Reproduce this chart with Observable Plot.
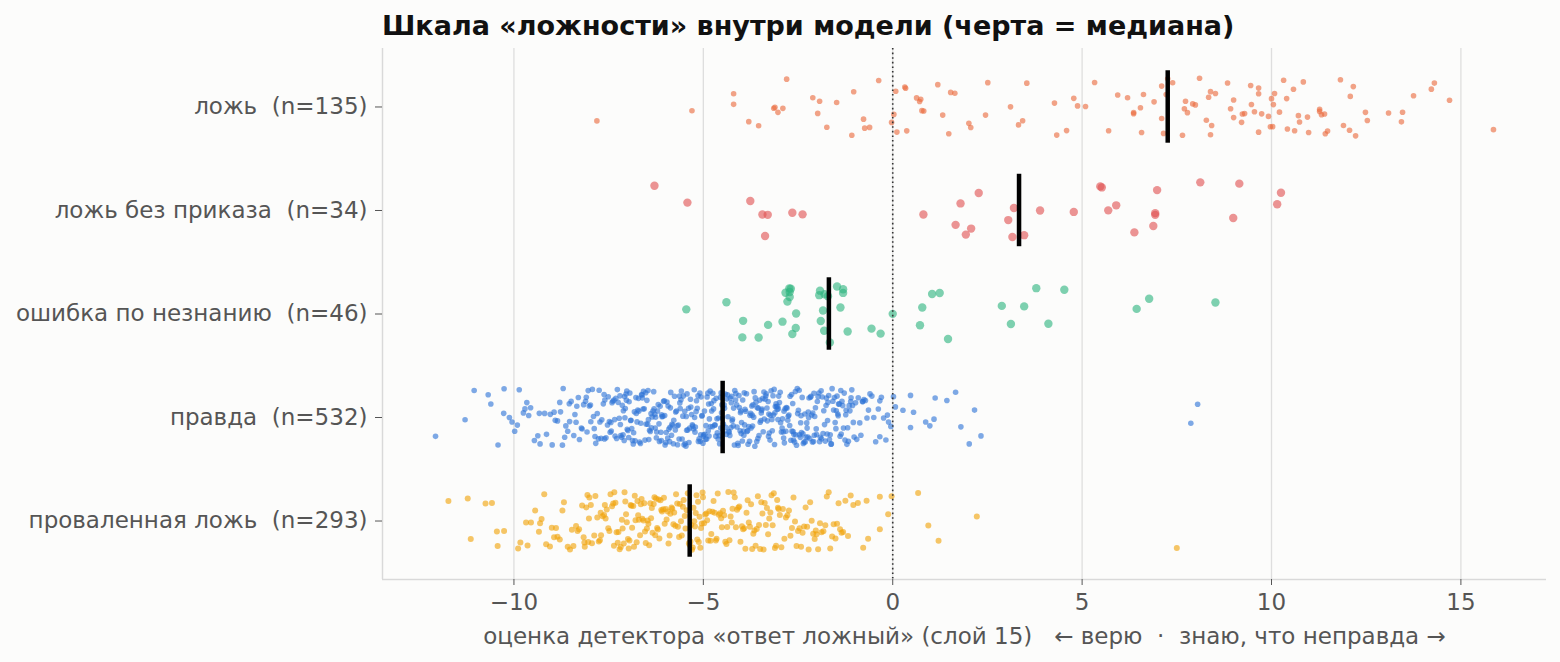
<!DOCTYPE html>
<html><head><meta charset="utf-8">
<script src="https://cdn.jsdelivr.net/npm/d3@7"></script>
<script src="https://cdn.jsdelivr.net/npm/@observablehq/plot@0.6"></script>
<style>
html,body{margin:0;padding:0;background:#fcfcfb;}
#wrap{position:relative;width:1560px;height:662px;font-family:"DejaVu Sans";}
#title{position:absolute;left:382px;top:12px;font-size:27px;line-height:1;font-weight:bold;color:#111;white-space:nowrap;}
#chart{position:absolute;left:0;top:0;}
svg text{white-space:pre;}
</style></head><body>
<div id="wrap"><div id="chart"></div><div id="title">Шкала «ложности» внутри модели (черта = медиана)</div></div>
<script>
const categories = ["ложь", "ложь без приказа", "ошибка по незнанию", "правда", "проваленная ложь"];
const colors = ["#ea6a3d", "#e05252", "#2fb57f", "#2f74d6", "#f0a30a"];
const radii = [2.8, 4.2, 4.2, 2.8, 3];
const xTicks = [-10, -5, 0, 5, 10, 15];
const xLabel = "оценка детектора «ответ ложный» (слой 15)   ← верю  ·  знаю, что неправда →";

const lie = [
-7.81,-5.30,-4.20,-4.20,-3.54,-3.80,-3.11,-2.90,-3.14,-2.80,
-3.03,-1.98,-1.93,-1.74,-2.11,-1.48,-1.03,-1.08,-0.77,-0.74,
-0.61,-0.37,0.03,0.11,0.08,-0.03,0.32,0.37,0.34,0.63,
0.77,0.74,0.71,0.82,1.19,1.32,1.48,1.53,1.64,2.01,
2.06,2.45,2.51,3.11,3.32,3.43,3.54,4.27,4.33,
4.59,4.88,4.78,5.09,5.33,5.70,5.94,6.20,6.36,6.36,
6.54,6.62,6.57,7.15,7.10,7.10,7.39,7.65,7.70,7.73,
7.78,7.92,7.99,8.10,8.28,8.34,8.39,8.42,8.39,8.52,
8.84,8.92,9.00,9.00,9.21,9.23,9.29,9.45,9.47,9.55,
9.66,9.66,9.66,9.74,9.92,9.97,10.00,10.03,10.05,10.08,
10.21,10.32,10.40,10.42,10.58,10.61,10.71,10.74,10.84,10.95,
10.98,11.27,11.27,11.32,11.40,11.42,11.48,11.82,11.90,12.06,
12.08,12.16,12.22,12.48,12.53,13.09,13.43,13.46,13.75,14.22,
14.30,14.70,15.86,6.90,7.22,7.26];

const lieUnprompted = [
-6.29,-5.42,-3.76,-3.37,-2.65,-3.44,-2.38,-3.30,0.81,1.79,
1.93,2.07,2.27,1.66,3.05,3.16,3.20,3.47,3.89,4.78,
5.69,5.52,5.48,5.90,6.38,6.93,6.98,6.93,6.88,8.12,
8.99,9.15,10.15,10.25];

const ignorance = [
-5.45,-4.39,-3.97,-3.95,-3.54,-3.29,-2.72,-2.65,-2.73,-2.78,
-2.56,-2.91,-2.83,-2.69,-2.72,-2.55,-1.84,-1.80,-1.47,-1.31,
-1.90,-1.81,-1.71,-1.94,-1.92,-1.66,-1.31,-1.19,-1.38,-0.56,
-0.32,0.00,1.04,0.78,0.72,1.46,1.24,3.12,2.88,3.47,
4.11,4.53,3.79,6.77,6.44,8.52];

const truth = [
-12.07,
-11.29,-11.05,
-10.68,-10.61,-10.42,-10.27,-10.26,-10.12,-10.05,
-9.98,-9.91,-9.86,-9.75,-9.71,-9.66,-9.61,-9.56,-9.46,-9.37,-9.33,-9.31,-9.19,-9.14,-9.04,
-8.99,-8.94,-8.91,-8.85,-8.79,-8.77,-8.72,-8.70,-8.66,-8.63,-8.58,-8.54,-8.53,-8.49,-8.42,-8.39,-8.36,-8.34,-8.30,-8.27,-8.22,-8.20,-8.16,-8.11,-8.09,-8.07,-8.04,-8.01,
-7.98,-7.97,-7.93,-7.88,-7.86,-7.84,-7.80,-7.77,-7.75,-7.73,-7.70,-7.68,-7.64,-7.61,-7.60,-7.57,-7.53,-7.51,-7.48,-7.46,-7.43,-7.41,-7.39,-7.36,-7.34,-7.31,-7.29,-7.27,-7.25,-7.22,-7.20,-7.18,-7.16,-7.14,-7.12,-7.11,-7.09,-7.07,-7.06,-7.04,-7.03,-7.02,-7.01,-7.90,-7.62,-7.44,-7.33,-7.19,-7.08,
-6.99,-6.97,-6.96,-6.94,-6.92,-6.91,-6.89,-6.87,-6.85,-6.84,-6.82,-6.80,-6.78,-6.77,-6.75,-6.73,-6.71,-6.70,-6.68,-6.66,-6.65,-6.63,-6.61,-6.59,-6.58,-6.56,-6.54,-6.52,-6.51,-6.49,-6.47,-6.45,-6.44,-6.42,-6.40,-6.38,-6.37,-6.35,-6.33,-6.31,-6.30,-6.28,-6.26,-6.24,-6.23,-6.21,-6.19,-6.17,-6.16,-6.14,-6.12,-6.10,-6.09,-6.07,-6.05,-6.03,-6.02,-6.01,-6.62,-6.46,-6.27,-6.11,
-5.99,-5.98,-5.96,-5.94,-5.93,-5.91,-5.89,-5.88,-5.86,-5.84,-5.83,-5.81,-5.79,-5.78,-5.76,-5.74,-5.73,-5.71,-5.69,-5.68,-5.66,-5.64,-5.63,-5.61,-5.59,-5.58,-5.56,-5.54,-5.53,-5.51,-5.49,-5.48,-5.46,-5.44,-5.43,-5.41,-5.39,-5.38,-5.36,-5.34,-5.33,-5.31,-5.29,-5.28,-5.26,-5.24,-5.23,-5.21,-5.19,-5.18,-5.16,-5.14,-5.13,-5.11,-5.09,-5.08,-5.06,-5.04,-5.03,-5.01,-5.87,-5.62,-5.45,-5.22,-5.07,
-5.00,-4.99,-4.97,-4.96,-4.94,-4.93,-4.91,-4.90,-4.88,-4.87,-4.85,-4.84,-4.82,-4.81,-4.79,-4.78,-4.76,-4.75,-4.73,-4.72,-4.70,-4.69,-4.67,-4.66,-4.64,-4.63,-4.61,-4.60,-4.58,-4.57,-4.55,-4.54,-4.53,-4.52,-4.51,-4.86,-4.50,-4.48,
-4.47,-4.45,-4.44,-4.42,-4.41,-4.39,-4.38,-4.36,-4.35,-4.33,-4.32,-4.30,-4.29,-4.27,-4.26,-4.24,-4.23,-4.21,-4.20,-4.18,-4.17,-4.15,-4.14,-4.12,-4.11,-4.09,-4.08,-4.06,-4.05,-4.03,-4.02,-4.01,-4.00,-4.25,
-3.99,-3.97,-3.96,-3.94,-3.93,-3.91,-3.90,-3.88,-3.86,-3.85,-3.83,-3.82,-3.80,-3.78,-3.77,-3.75,-3.74,-3.72,-3.71,-3.69,-3.67,-3.66,-3.64,-3.63,-3.61,-3.59,-3.58,-3.56,-3.55,-3.53,-3.51,-3.50,-3.48,-3.47,-3.45,-3.43,-3.42,-3.40,-3.39,-3.37,-3.35,-3.34,-3.32,-3.31,-3.29,-3.27,-3.26,-3.24,-3.23,-3.21,-3.19,-3.18,-3.16,-3.15,-3.13,-3.11,-3.10,-3.08,-3.07,-3.05,-3.03,-3.02,-3.01,-3.92,-3.70,-3.46,-3.28,-3.12,-3.04,
-2.99,-2.97,-2.96,-2.94,-2.92,-2.91,-2.89,-2.87,-2.86,-2.84,-2.82,-2.81,-2.79,-2.77,-2.76,-2.74,-2.72,-2.71,-2.69,-2.67,-2.66,-2.64,-2.62,-2.61,-2.59,-2.57,-2.56,-2.54,-2.52,-2.51,-2.49,-2.47,-2.46,-2.44,-2.42,-2.41,-2.39,-2.37,-2.36,-2.34,-2.32,-2.31,-2.29,-2.27,-2.26,-2.24,-2.22,-2.21,-2.19,-2.17,-2.16,-2.14,-2.12,-2.11,-2.09,-2.07,-2.06,-2.04,-2.02,-2.01,-2.88,-2.63,-2.43,-2.23,-2.08,
-1.99,-1.97,-1.95,-1.93,-1.91,-1.89,-1.88,-1.86,-1.84,-1.82,-1.80,-1.78,-1.76,-1.75,-1.73,-1.71,-1.69,-1.67,-1.65,-1.63,-1.62,-1.60,-1.58,-1.56,-1.54,-1.52,-1.50,-1.49,-1.47,-1.45,-1.43,-1.41,-1.39,-1.37,-1.36,-1.34,-1.32,-1.30,-1.28,-1.26,-1.24,-1.23,-1.21,-1.19,-1.17,-1.15,-1.13,-1.11,-1.10,-1.08,-1.06,-1.04,-1.02,-1.72,-1.44,
-0.98,-0.95,-0.91,-0.87,-0.84,-0.80,-0.79,-0.76,-0.72,-0.68,-0.64,-0.60,-0.55,-0.50,-0.45,-0.38,-0.34,-0.34,-0.30,-0.24,-0.18,-0.14,-0.11,-0.05,
0.02,0.07,0.27,0.47,0.47,0.55,0.87,0.98,
1.09,1.12,1.43,1.66,1.80,
2.02,2.16,2.33,
7.87,8.05];

const failedLie = [
-11.73,-11.22,-11.14,
-10.75,-10.58,-10.45,-10.43,-10.26,
-9.89,-9.83,-9.68,-9.64,-9.55,-9.44,-9.34,-9.31,-9.27,-9.20,-9.15,-9.05,-9.00,
-8.94,-8.89,-8.85,-8.79,-8.72,-8.68,-8.58,-8.52,-8.47,-8.43,-8.36,-8.32,-8.28,-8.20,-8.16,-8.14,-8.13,-8.09,-8.06,-8.04,-8.02,-8.01,
-7.97,-7.94,-7.88,-7.85,-7.80,-7.76,-7.73,-7.71,-7.70,-7.66,-7.62,-7.58,-7.55,-7.51,-7.48,-7.45,-7.41,-7.38,-7.35,-7.32,-7.29,-7.26,-7.24,-7.21,-7.18,-7.15,-7.13,-7.10,-7.08,-7.06,-7.04,-7.02,-7.60,-7.36,
-6.99,-6.97,-6.95,-6.92,-6.90,-6.88,-6.85,-6.83,-6.81,-6.79,-6.76,-6.74,-6.72,-6.70,-6.67,-6.65,-6.63,-6.61,-6.58,-6.56,-6.54,-6.52,-6.49,-6.47,-6.45,-6.43,-6.40,-6.38,-6.36,-6.34,-6.31,-6.29,-6.27,-6.25,-6.22,-6.20,-6.18,-6.16,-6.13,-6.11,-6.09,-6.06,-6.04,-6.02,
-5.99,-5.97,-5.94,-5.92,-5.89,-5.87,-5.84,-5.82,-5.79,-5.77,-5.74,-5.72,-5.69,-5.67,-5.64,-5.62,-5.59,-5.57,-5.54,-5.52,-5.49,-5.47,-5.44,-5.41,-5.38,-5.36,
-5.34,-5.32,-5.30,-5.28,-5.26,-5.24,-5.22,-5.20,-5.18,-5.16,-5.14,-5.12,-5.10,-5.08,-5.06,-5.04,-5.02,-5.01,
-4.98,-4.95,-4.92,-4.90,-4.87,-4.84,-4.81,-4.79,-4.76,-4.73,-4.70,-4.67,-4.65,-4.62,-4.59,-4.56,-4.53,-4.51,-4.48,-4.45,-4.42,-4.39,-4.37,-4.34,-4.31,-4.28,-4.25,-4.23,-4.20,-4.17,-4.14,-4.11,-4.08,-4.05,-4.02,
-3.98,-3.95,-3.92,-3.89,-3.86,-3.83,-3.80,-3.77,-3.74,-3.71,-3.68,-3.65,-3.62,-3.59,-3.56,-3.53,-3.50,-3.47,-3.44,-3.41,-3.38,-3.35,-3.32,-3.29,-3.26,-3.23,-3.20,-3.17,-3.14,-3.11,-3.08,-3.05,-3.03,-3.01,
-2.98,-2.94,-2.90,-2.86,-2.82,-2.78,-2.74,-2.70,-2.66,-2.62,-2.58,-2.54,-2.50,-2.46,-2.42,-2.38,-2.34,-2.30,-2.26,-2.22,-2.18,-2.14,-2.10,-2.06,-2.03,-2.01,
-1.97,-1.92,-1.88,-1.83,-1.78,-1.74,-1.69,-1.65,-1.60,-1.56,-1.51,-1.47,-1.43,-1.39,-1.35,-1.31,-1.25,-1.18,-1.11,-1.04,
-0.92,-0.78,-0.69,-0.65,-0.34,-0.34,-0.12,-0.03,
0.67,0.94,1.21,2.22,
7.50];

const groups = [lie, lieUnprompted, ignorance, truth, failedLie];
const labels = categories.map((c, i) => `${c}  (n=${groups[i].length})`);

// deterministic vertical jitter (layout only)
function jitter(g, i) {
  const s = Math.sin((i + 1) * 12.9898 + (g + 1) * 78.233) * 43758.5453;
  return (s - Math.floor(s)) * 2 - 1;
}
const JIT = 0.28;
const medians = groups.map((vals, g) => ({g, m: d3.median(vals)}));
const xMin = -13.47, xMax = 17.26, yTop = -0.565, yBottom = 4.565;

const dotMarks = groups.map((vals, g) =>
  Plot.dot(vals.map((v, i) => ({v, y: g + JIT * jitter(g, i)})), {
    x: "v", y: "y", r: radii[g], fill: colors[g], fillOpacity: 0.62, stroke: "none"
  })
);

const chart = Plot.plot({
  width: 1560, height: 662,
  marginLeft: 382, marginRight: 14, marginTop: 48, marginBottom: 83,
  style: {fontFamily: "DejaVu Sans", fontSize: "23px", color: "#555", background: "transparent", overflow: "visible"},
  x: {domain: [xMin, xMax]},
  y: {domain: [yBottom, yTop]},
  marks: [
    Plot.gridX(xTicks, {stroke: "#dedede", strokeOpacity: 1, strokeWidth: 1.3}),
    ...dotMarks,
    Plot.ruleX([0], {stroke: "#333", strokeWidth: 1.6, strokeDasharray: "1.6,3"}),
    Plot.ruleX(medians, {x: "m", y1: d => d.g - 0.35, y2: d => d.g + 0.35, stroke: "#000", strokeWidth: 4.5}),
    Plot.ruleX([xMin], {stroke: "#d9d9d9", strokeWidth: 1.5}),
    Plot.ruleY([yBottom], {stroke: "#d9d9d9", strokeWidth: 1.5}),
    Plot.axisX({ticks: xTicks, tickSize: 6, tickPadding: 8, fontSize: 23, label: xLabel, labelAnchor: "center", labelArrow: "none", labelOffset: 64}),
    Plot.axisY({ticks: [0, 1, 2, 3, 4], tickFormat: i => labels[i], tickSize: 7, tickPadding: 8, fontSize: 23, label: null})
  ]
});
document.getElementById("chart").appendChild(chart);
</script>
</body></html>
